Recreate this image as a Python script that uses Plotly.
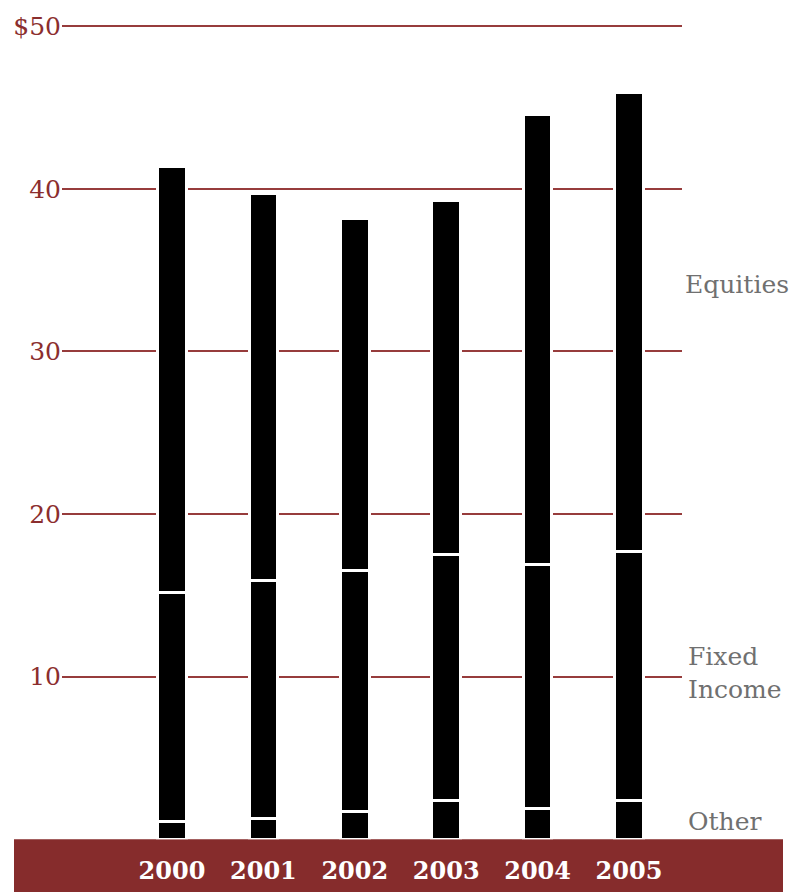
import plotly.graph_objects as go

# Assets by type, in billions of dollars
years = ["2000", "2001", "2002", "2003", "2004", "2005"]
other = [1.1, 1.3, 1.7, 2.4, 1.9, 2.4]
fixed_income = [14.1, 14.6, 14.8, 15.1, 15.0, 15.3]
equities = [26.2, 23.8, 21.7, 21.8, 27.7, 28.2]

y_tickvals = [10, 20, 30, 40, 50]
y_ticktext = ["10", "20", "30", "40", "$50"]

W, H = 789, 892
FONT = "DejaVu Serif"
RED = "#862c2c"
GRID = "#973c3c"
GREY = "#707070"

fig = go.Figure()
for name, vals in [("Other", other), ("Fixed Income", fixed_income), ("Equities", equities)]:
    fig.add_trace(go.Bar(
        x=years, y=vals, name=name,
        width=0.315,
        marker=dict(color="black", line=dict(color="white", width=3)),
        hoverinfo="skip",
    ))

# plot area: x 62..682 px, y baseline at 839 px, 16.26 px per unit
y_top = 51
px_per_unit = 16.26
base_px = 839.2
top_px = base_px - y_top * px_per_unit

fig.update_layout(
    width=W, height=H,
    margin=dict(l=0, r=0, t=0, b=0),
    paper_bgcolor="white", plot_bgcolor="white",
    barmode="stack", showlegend=False,
    font=dict(family=FONT),
    xaxis=dict(
        domain=[62 / W, 682 / W],
        range=[-1.2035, 5.58],
        showgrid=False, zeroline=False, showline=False,
        ticks="outside", ticklen=10, tickcolor="rgba(0,0,0,0)",
        tickfont=dict(family=FONT, size=24, color="white", weight="bold"),
    ),
    yaxis=dict(
        domain=[(H - base_px) / H, (H - top_px) / H],
        range=[0, y_top],
        tickvals=y_tickvals, ticktext=y_ticktext,
        showgrid=True, gridcolor=GRID, gridwidth=1.5,
        zeroline=False, showline=False, ticks="",
        tickfont=dict(family=FONT, size=25, color="#8b2e2e"),
    ),
    shapes=[dict(
        type="rect", xref="paper", yref="paper",
        x0=14 / W, x1=783 / W, y0=0, y1=(H - base_px) / H,
        fillcolor=RED, line=dict(width=0), layer="below",
    )],
    annotations=[
        dict(text="Equities", x=683 / W, y=34.1, xref="paper", yref="y",
             xanchor="left", yanchor="middle", showarrow=False,
             font=dict(family=FONT, size=25, color=GREY)),
        dict(text="Fixed<br>Income", x=686 / W, y=10.2, xref="paper", yref="y",
             xanchor="left", yanchor="middle", align="left", showarrow=False,
             font=dict(family=FONT, size=25, color=GREY)),
        dict(text="Other", x=686 / W, y=1.1, xref="paper", yref="y",
             xanchor="left", yanchor="middle", showarrow=False,
             font=dict(family=FONT, size=25, color=GREY)),
    ],
)

fig.write_html("out.html")
